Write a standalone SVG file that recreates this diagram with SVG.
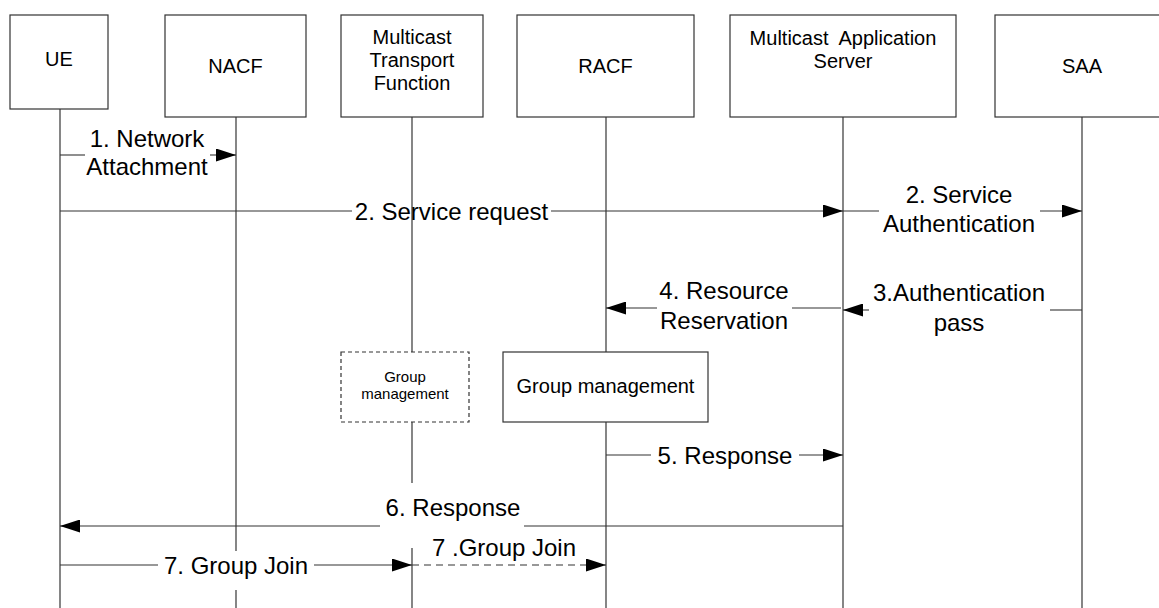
<svg xmlns="http://www.w3.org/2000/svg" width="1159" height="608" viewBox="0 0 1159 608">
<defs>
<style>
.box{fill:#fff;stroke:#333;stroke-width:1.2}
.dbox{fill:#fff;stroke:#333;stroke-width:1.2;stroke-dasharray:4 3}
.life{stroke:#222;stroke-width:1.1;fill:none}
.msg{stroke:#333;stroke-width:1.1;fill:none}
.dash{stroke-dasharray:7 5}
.bt{font-family:"Liberation Sans",Arial,sans-serif;font-size:20px;fill:#000;text-anchor:middle}
.st{font-family:"Liberation Sans",Arial,sans-serif;font-size:15px;fill:#000;text-anchor:middle}
.ml{font-family:"Liberation Sans",Arial,sans-serif;font-size:24px;fill:#000;text-anchor:middle}
</style>
<marker id="ah" markerUnits="userSpaceOnUse" markerWidth="20" markerHeight="13" refX="20" refY="6.5" orient="auto">
<path d="M0,0 L20,6.5 L0,13 Z" fill="#000"/>
</marker>
</defs>
<rect width="1159" height="608" fill="#fff"/>

<g id="lifelines">
<line class="life" x1="60" y1="109" x2="60" y2="608"/>
<line class="life" x1="236" y1="117" x2="236" y2="551"/>
<line class="life" x1="236" y1="590" x2="236" y2="608"/>
<line class="life" x1="412" y1="117" x2="412" y2="352"/>
<line class="life" x1="412" y1="422" x2="412" y2="483"/>
<line class="life" x1="412" y1="548" x2="412" y2="608"/>
<line class="life" x1="606" y1="117" x2="606" y2="352"/>
<line class="life" x1="606" y1="422" x2="606" y2="608"/>
<line class="life" x1="843" y1="117" x2="843" y2="608"/>
<line class="life" x1="1082" y1="117" x2="1082" y2="608"/>
</g>

<g id="UE">
<rect class="box" x="10" y="15" width="98" height="94"/>
<text class="bt" x="59" y="66">UE</text>
</g>
<g id="NACF">
<rect class="box" x="165" y="15" width="141" height="102"/>
<text class="bt" x="235.5" y="73">NACF</text>
</g>
<g id="MTF">
<rect class="box" x="341" y="15" width="142" height="102"/>
<text class="bt" x="412" y="44">Multicast</text>
<text class="bt" x="412" y="67">Transport</text>
<text class="bt" x="412" y="90">Function</text>
</g>
<g id="RACF">
<rect class="box" x="517" y="15" width="177" height="102"/>
<text class="bt" x="605.5" y="73">RACF</text>
</g>
<g id="MAS">
<rect class="box" x="730" y="15" width="226" height="102"/>
<text class="bt" x="843" y="45">Multicast&#160; Application</text>
<text class="bt" x="843" y="68">Server</text>
</g>
<g id="SAA">
<rect class="box" x="995" y="15" width="175" height="102"/>
<text class="bt" x="1082" y="73">SAA</text>
</g>
<g id="GM-MTF">
<rect class="dbox" x="341" y="352" width="128" height="70"/>
<text class="st" x="405" y="382">Group</text>
<text class="st" x="405" y="399">management</text>
</g>
<g id="GM-RACF">
<rect class="box" x="503" y="352" width="205" height="70"/>
<text class="bt" x="605.5" y="393">Group management</text>
</g>

<g id="connectors">
<line class="msg" x1="60" y1="155" x2="85" y2="155"/>
<line class="msg" x1="210" y1="155" x2="236" y2="155" marker-end="url(#ah)"/>
<text class="ml" x="147" y="147">1. Network</text>
<text class="ml" x="147" y="175">Attachment</text>
<line class="msg" x1="60" y1="211" x2="352" y2="211"/>
<line class="msg" x1="551" y1="211" x2="843" y2="211" marker-end="url(#ah)"/>
<text class="ml" x="451.5" y="219.5">2. Service request</text>
<line class="msg" x1="843" y1="211" x2="879" y2="211"/>
<line class="msg" x1="1040" y1="211" x2="1082" y2="211" marker-end="url(#ah)"/>
<text class="ml" x="959" y="203">2. Service</text>
<text class="ml" x="959" y="232">Authentication</text>
<line class="msg" x1="1082" y1="310" x2="1050" y2="310"/>
<line class="msg" x1="869" y1="310" x2="843" y2="310" marker-end="url(#ah)"/>
<text class="ml" x="959" y="301">3.Authentication</text>
<text class="ml" x="959" y="331">pass</text>
<line class="msg" x1="841" y1="308" x2="792" y2="308"/>
<line class="msg" x1="657" y1="308" x2="606" y2="308" marker-end="url(#ah)"/>
<text class="ml" x="724" y="299">4. Resource</text>
<text class="ml" x="724" y="329">Reservation</text>
<line class="msg" x1="606" y1="455" x2="651" y2="455"/>
<line class="msg" x1="799" y1="455" x2="843" y2="455" marker-end="url(#ah)"/>
<text class="ml" x="725" y="463.5">5. Response</text>
<line class="msg" x1="843" y1="526" x2="524" y2="526"/>
<line class="msg" x1="380" y1="526" x2="60" y2="526" marker-end="url(#ah)"/>
<text class="ml" x="453" y="516">6. Response</text>
<line class="msg" x1="60" y1="565" x2="158" y2="565"/>
<line class="msg" x1="314" y1="565" x2="412" y2="565" marker-end="url(#ah)"/>
<text class="ml" x="236" y="573.5">7. Group Join</text>
<line class="msg dash" x1="412" y1="565" x2="606" y2="565" marker-end="url(#ah)"/>
<text class="ml" x="504" y="556">7 .Group Join</text>
</g>
</svg>
